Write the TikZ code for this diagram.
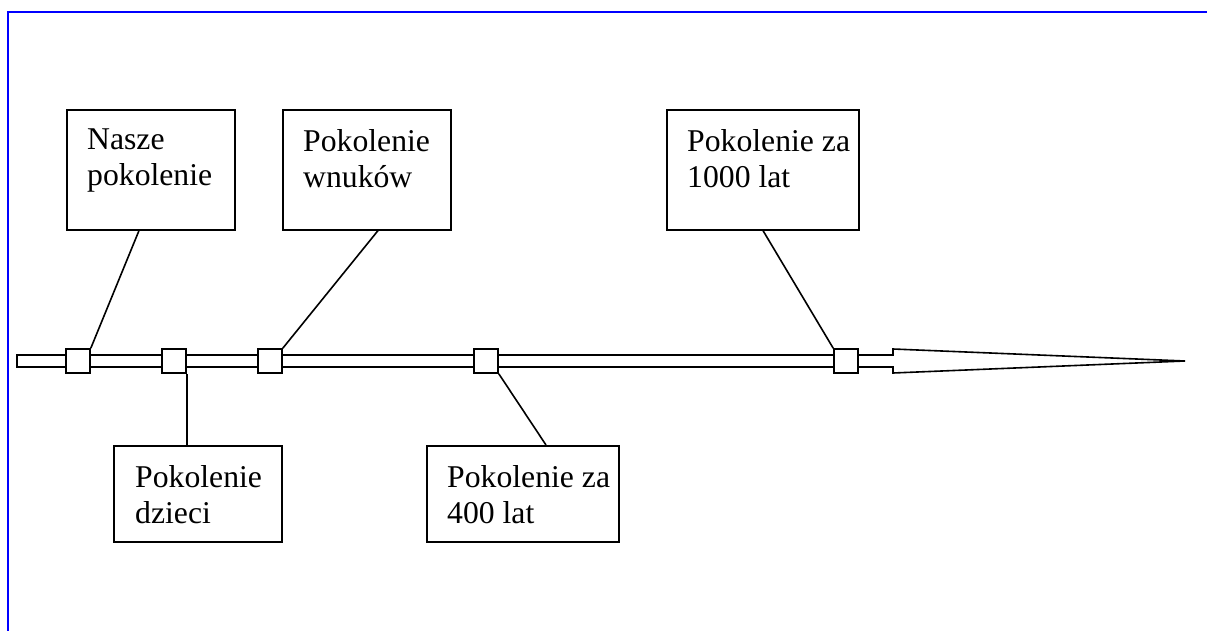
\documentclass[tikz,border=0pt]{standalone}
\usepackage{fontspec}
\setmainfont{Liberation Serif}
\usetikzlibrary{calc}
\begin{document}
\begin{tikzpicture}[x=1pt,y=-1pt,
  frameline/.style={draw=blue,line width=2pt},
  tick/.style={draw=black,fill=white,line width=1.6pt,minimum width=24pt,minimum height=24pt,inner sep=0pt},
  genbox/.style={draw=black,line width=1.6pt,inner sep=0pt,anchor=north west},
  gentext/.style={anchor=north west,inner sep=0pt,align=left,font=\fontsize{31.7pt}{36pt}\selectfont},
  conn/.style={draw=black,line width=1.6pt}]
\useasboundingbox (0,0) rectangle (1207,631);
% blue frame
\coordinate (fbl) at (7.5,640);
\coordinate (ftl) at (7.5,12.5);
\coordinate (ftr) at (1215,12.5);
\draw[frameline] (fbl) -- (ftl) -- (ftr);
% time arrow
\draw[line width=1.6pt,fill=white,line join=miter]
  (17,355) -- (893,355) -- (893,349) -- (1185,361) -- (893,373) -- (893,367) -- (17,367) -- cycle;
% ticks
\node[tick] (s1) at (78,361) {};
\node[tick] (s2) at (174,361) {};
\node[tick] (s3) at (270,361) {};
\node[tick] (s4) at (486,361) {};
\node[tick] (s5) at (846,361) {};
% boxes
\node[genbox,minimum width=168pt,minimum height=120pt] (b1) at (66,109) {};
\node[genbox,minimum width=168pt,minimum height=120pt] (b2) at (282,109) {};
\node[genbox,minimum width=192pt,minimum height=120pt] (b4) at (666,109) {};
\node[genbox,minimum width=168pt,minimum height=96pt] (b3) at (113,445) {};
\node[genbox,minimum width=192pt,minimum height=96pt] (b5) at (426,445) {};
% texts
\node[gentext] (t1) at ($(b1.north west)+(21,20)$) {Nasze\\pokolenie};
\node[gentext] (t2) at ($(b2.north west)+(21,20)$) {Pokolenie\\wnuków};
\node[gentext] (t4) at ($(b4.north west)+(21,20)$) {Pokolenie za\\1000 lat};
\node[gentext] (t3) at ($(b3.north west)+(22,20)$) {Pokolenie\\dzieci};
\node[gentext] (t5) at ($(b5.north west)+(21,20)$) {Pokolenie za\\400 lat};
% connectors
\draw[conn] ($(b1.south west)+(73,0)$) -- (s1.north east);
\draw[conn] ($(b2.south west)+(96,0)$) -- (s3.north east);
\draw[conn] ($(b4.south west)+(97,0)$) -- (s5.north west);
\draw[conn] (s2.south east) -- (s2.south east |- b3.north);
\draw[conn] (s4.south east) -- ($(b5.north west)+(120,0)$);
\end{tikzpicture}
\end{document}
